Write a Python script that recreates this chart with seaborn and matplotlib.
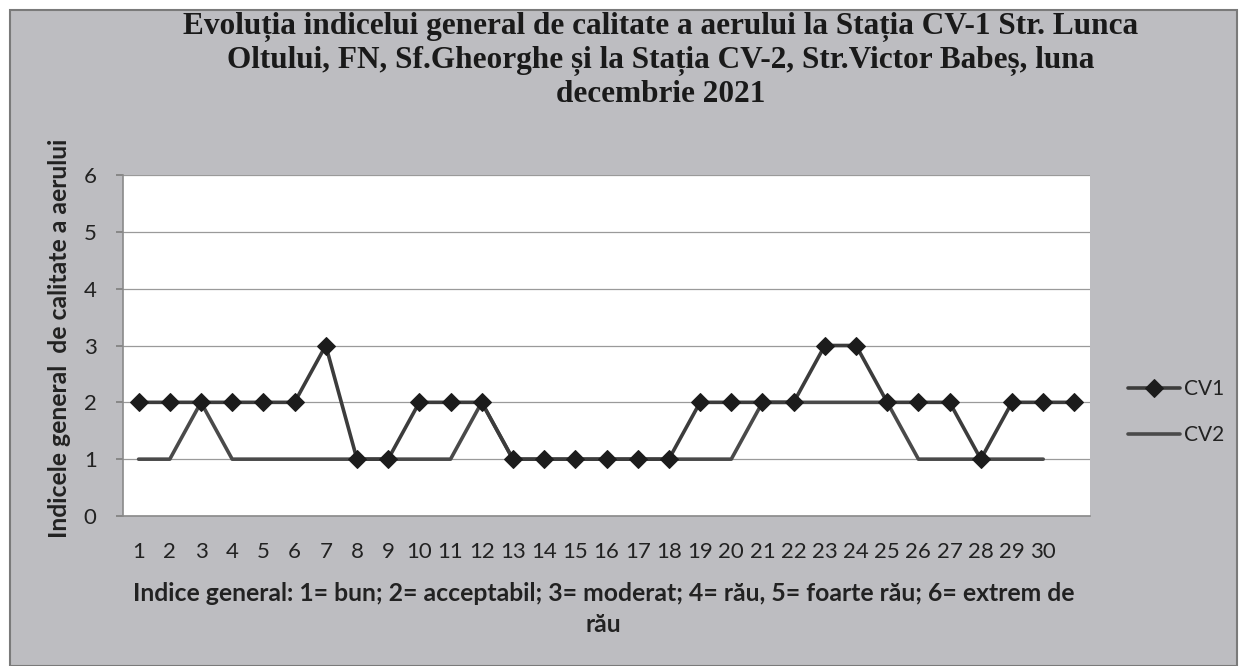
import numpy as np
import pandas as pd
import matplotlib
matplotlib.use("Agg")
import matplotlib.pyplot as plt
from matplotlib.patches import Rectangle
import seaborn as sns

days = list(range(1, 32))
tick_labels = [str(d) for d in range(1, 31)] + [""]
cv1 = [2, 2, 2, 2, 2, 2, 3, 1, 1, 2, 2, 2, 1, 1, 1, 1, 1, 1, 2, 2, 2, 2, 3, 3, 2, 2, 2, 1, 2, 2, 2]
cv2 = [1, 1, 2, 1, 1, 1, 1, 1, 1, 1, 1, 2, 1, 1, 1, 1, 1, 1, 1, 1, 2, 2, 2, 2, 2, 1, 1, 1, 1, 1, np.nan]
series_names = ["CV1", "CV2"]
y_ticks = [0, 1, 2, 3, 4, 5, 6]

title = ("Evoluția indicelui general de calitate a aerului la Stația CV-1 Str. Lunca\n"
         "Oltului, FN, Sf.Gheorghe și la Stația CV-2, Str.Victor Babeș, luna\n"
         "decembrie 2021")
xlabel = ("Indice general: 1= bun; 2= acceptabil; 3= moderat; 4= rău, 5= foarte rău; 6= extrem de\n"
          "rău")
ylabel = "Indicele general  de calitate a aerului"

df1 = pd.DataFrame({"day": days, "value": cv1})
df2 = pd.DataFrame({"day": days, "value": cv2}).dropna()

sns.set_theme(style="white")
plt.rcParams['font.family'] = ['Lato', 'DejaVu Sans']

W, H = 1247, 666
fig = plt.figure(figsize=(W / 100, H / 100), dpi=100)
fig.patch.set_facecolor("white")
bg = "#bdbdc1"
fig.patches.append(Rectangle((10 / W, 0), (W - 20) / W, (H - 10) / H, transform=fig.transFigure,
                             facecolor=bg, edgecolor="#7a7a7a", linewidth=1.5, zorder=-10))

ax = fig.add_axes([123 / W, 1 - 516 / H, (1090 - 123) / W, (516 - 175) / H])
ax.set_facecolor("white")

sns.lineplot(data=df1, x="day", y="value", color="#3c3c3c", marker="D", markersize=9,
             markerfacecolor="#1c1c1c", markeredgecolor="#1c1c1c",
             linewidth=2.6, ax=ax, label=series_names[0], zorder=3)
sns.lineplot(data=df2, x="day", y="value", color="#4a4a4a",
             linewidth=2.6, ax=ax, label=series_names[1], zorder=2)

ax.set_xlim(0.5, 31.5)
ax.set_ylim(0, 6)
ax.set_xticks(days)
ax.set_xticklabels(tick_labels, fontsize=16, color="#222222")
ax.set_yticks(y_ticks)
ax.set_yticklabels([str(t) for t in y_ticks], fontsize=16, color="#222222")
ax.tick_params(axis="x", length=0, pad=19)
ax.tick_params(axis="y", length=5, color="#808080", pad=14, left=True)
ax.yaxis.grid(True, color="#9a9a9a", linewidth=0.9)
ax.xaxis.grid(False)
for s in ["top", "right"]:
    ax.spines[s].set_visible(False)
for s in ["left", "bottom"]:
    ax.spines[s].set_color("#8a8a8a")
    ax.spines[s].set_linewidth(1.2)

ax.set_xlabel(xlabel, fontsize=17.8, fontweight="bold", color="#222222", linespacing=1.42)
ax.xaxis.set_label_coords(0.497, -0.193)
ax.set_ylabel(ylabel, fontsize=17.8, fontweight="bold", color="#222222")
ax.yaxis.set_label_coords(-0.054, 0.522)

fig.text(0.53, 0.982, title, ha="center", va="top", fontsize=22.5, fontweight="bold",
         family="Liberation Serif", color="#1a1a1a", linespacing=1.18)

leg = ax.legend(loc="center left", bbox_to_anchor=(1.039, 0.305), frameon=False,
                fontsize=15, handlelength=2.5, labelspacing=1.25, handletextpad=0.2,
                borderpad=0, borderaxespad=0)
for t in leg.get_texts():
    t.set_color("#222222")

fig.savefig("out.png", dpi=100, facecolor=fig.get_facecolor())
